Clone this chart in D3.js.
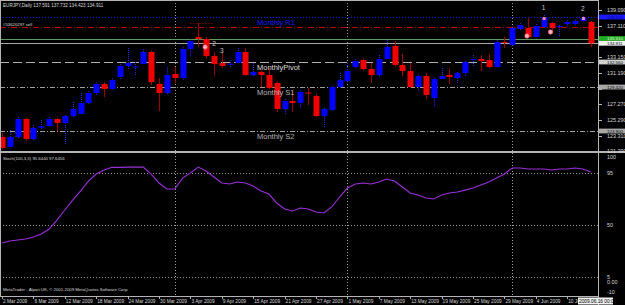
<!DOCTYPE html>
<meta charset="utf-8">
<script src="https://d3js.org/d3.v7.min.js"></script>
<style>
body { margin: 0; background: #000; }
svg { display: block; background: #000; }
text { font-family: "Liberation Sans", Arial, sans-serif; }
.small { font-size: 5.4px; fill: #d8d8d8; }
.tiny { font-size: 4.3px; fill: #d8d8d8; }
.tlab { font-size: 4.8px; fill: #d8d8d8; }
.boxt { font-size: 4.4px; }
.lvl { font-size: 7.5px; }
</style>
<body>
<script>

var titleText = "EURJPY,Daily 137.591 137.732 134.423 134.911";
var stochText = "Stoch(100,3,3) 95.6440 97.6456";
var footerText = "MetaTrader - Alpari UK, \u00a9 2001-2009 MetaQuotes Software Corp.";
var orderText = "#53620297 sell";
var cursorText = "2009.06.16 00:00";

// trading days, one per candle
var dates = [
  "2009-03-02","2009-03-03","2009-03-04","2009-03-05","2009-03-06",
  "2009-03-09","2009-03-10","2009-03-11","2009-03-12","2009-03-13",
  "2009-03-16","2009-03-17","2009-03-18","2009-03-19","2009-03-20",
  "2009-03-23","2009-03-24","2009-03-25","2009-03-26","2009-03-27",
  "2009-03-30","2009-03-31","2009-04-01","2009-04-02","2009-04-03",
  "2009-04-06","2009-04-07","2009-04-08","2009-04-09","2009-04-10",
  "2009-04-13","2009-04-14","2009-04-15","2009-04-16","2009-04-17",
  "2009-04-20","2009-04-21","2009-04-22","2009-04-23","2009-04-24",
  "2009-04-27","2009-04-28","2009-04-29","2009-04-30","2009-05-01",
  "2009-05-04","2009-05-05","2009-05-06","2009-05-07","2009-05-08",
  "2009-05-11","2009-05-12","2009-05-13","2009-05-14","2009-05-15",
  "2009-05-18","2009-05-19","2009-05-20","2009-05-21","2009-05-22",
  "2009-05-25","2009-05-26","2009-05-27","2009-05-28","2009-05-29",
  "2009-06-01","2009-06-02","2009-06-03","2009-06-04","2009-06-05",
  "2009-06-08","2009-06-09","2009-06-10","2009-06-11","2009-06-12",
  "2009-06-15"
];

var tickDates = ["2009-03-02","2009-03-06","2009-03-12","2009-03-18","2009-03-24","2009-03-30",
  "2009-04-03","2009-04-09","2009-04-15","2009-04-21","2009-04-27","2009-05-01","2009-05-07",
  "2009-05-13","2009-05-19","2009-05-25","2009-05-29","2009-06-04","2009-06-10"];

var open = [123.15,121.90,123.15,125.41,122.90,124.30,124.53,125.41,124.91,125.78,
  126.04,127.42,128.67,129.80,129.17,130.68,132.06,131.90,132.31,133.82,
  129.80,128.67,131.06,130.55,134.20,135.70,135.45,133.32,132.44,132.25,
  132.44,133.82,130.93,131.31,130.93,129.93,126.66,127.67,127.42,128.72,
  128.29,125.78,126.54,129.42,130.18,131.93,132.81,131.68,130.93,132.94,
  134.57,132.19,131.43,129.42,130.81,128.04,130.43,130.93,130.55,131.18,
  132.81,132.94,132.81,131.93,135.07,134.70,136.70,136.83,135.70,136.96,
  137.46,136.96,137.33,137.33,137.71,137.591];
var high = [123.65,124.03,125.66,125.60,124.66,125.28,125.60,125.60,125.90,127.54,
  128.67,128.90,130.00,130.00,130.50,132.30,134.30,132.56,134.20,134.00,
  130.55,131.90,131.93,134.40,135.40,137.46,135.70,133.82,133.69,132.81,
  134.32,134.32,132.44,131.50,131.81,130.10,127.90,128.92,129.00,129.30,
  128.50,126.80,129.60,131.18,132.44,132.90,133.00,132.44,133.44,135.32,
  135.20,133.57,132.44,131.00,131.18,130.60,131.81,131.68,131.30,132.70,
  133.44,133.44,133.57,135.30,135.70,137.00,137.46,138.09,137.33,138.46,
  137.60,137.20,137.80,137.90,138.30,137.732];
var low = [121.60,121.70,122.90,122.70,122.70,124.03,124.40,123.90,122.14,125.60,
  125.90,127.17,128.40,128.17,129.00,130.40,131.68,130.80,132.20,129.68,
  126.41,128.40,129.93,130.30,133.19,134.45,133.00,130.93,131.81,131.81,
  132.30,130.80,130.80,129.42,129.10,126.29,125.91,126.29,126.79,127.17,
  125.66,124.40,126.40,129.30,130.00,131.80,131.50,129.93,130.80,132.80,
  132.00,130.81,129.30,128.92,127.92,126.91,130.30,129.80,129.93,130.68,
  131.93,131.43,131.80,131.80,134.32,134.50,136.50,135.58,135.50,136.80,
  136.20,135.70,137.00,137.10,137.50,134.423];
var close = [121.77,123.15,125.41,122.90,124.28,124.50,125.41,124.91,125.78,126.66,
  127.42,128.67,129.80,129.17,130.30,132.06,132.44,132.00,133.82,130.05,
  128.67,130.93,130.55,134.20,135.20,135.45,133.32,132.31,132.06,132.35,
  133.82,130.93,131.31,130.93,129.30,126.66,127.67,127.42,128.80,128.62,
  125.78,126.66,129.42,130.30,131.43,132.69,131.68,130.93,132.94,134.45,
  132.19,131.43,129.42,130.81,128.42,130.43,130.81,130.68,131.18,132.56,
  132.94,132.69,131.93,135.07,134.95,136.83,137.21,135.70,137.08,138.09,
  136.83,137.08,137.58,137.71,138.09,134.911];

var stoch = [34.1,35.8,36.7,37.6,39.3,41.9,46.2,54.0,62.7,71.3,
  79.1,87.7,93.8,97.3,99.6,99.6,99.8,99.8,99.8,93.8,
  86.0,80.8,80.8,90.3,94.7,99.8,96.4,91.2,86.0,85.2,
  86.9,86.0,83.4,79.1,76.5,68.7,63.5,61.8,64.4,63.5,
  60.9,60.1,65.3,73.9,81.7,85.2,86.0,85.2,86.9,89.5,
  87.7,82.6,77.4,75.6,73.0,72.2,75.6,77.4,78.2,79.9,
  81.7,84.3,86.9,90.3,93.8,99.0,99.0,98.1,98.1,98.1,
  97.3,98.1,98.1,99.0,98.1,95.6];

var priceTicks = [139.09, 137.11, 135.15, 133.15, 131.19, 129.23, 127.27, 125.29, 123.31, 121.39];
var stochLevels = [95, 50, 5];
var stochTicks = [95, 50, 5, 0, -10];

var levelNames = ["Monthly R1", "sell", "tp", "bid", "MonthlyPivot", "Monthly S1", "Monthly S2"];
var levelPrices = [138.21, 136.96, 135.51, 134.911, 132.56, 129.42, 123.90];

var markBars = [27, 28, 69, 74];
var markPrices = [134.82, 133.94, 139.34, 139.22];
var markTexts = ["2", "3", "1", "2"];
var circleBars = [26, 67, 70];
var circlePrices = [134.45, 135.83, 136.33];
var arrowBars = [69, 74];
var arrowPrices = [137.96, 137.96];

var width = 625, height = 305;
var axisX = 598, timeY = 296;

var svg = d3.select("body").append("svg")
  .attr("width", width)
  .attr("height", height);

var xScale = d3.scaleLinear().domain([0, dates.length - 1]).range([2, 590.75]);
var yScale = d3.scaleLinear().domain([121.515, 140.345]).range([150, 0]);
var sScale = d3.scaleLinear().domain([-10, 112]).range([294, 153]);

var parseDate = d3.timeParse("%Y-%m-%d");
var fmtDate = d3.timeFormat("%-d %b %Y");

svg.append("clipPath").attr("id", "mainClip")
  .append("rect").attr("x", 0).attr("y", 0).attr("width", axisX).attr("height", 150);
svg.append("clipPath").attr("id", "timeClip")
  .append("rect").attr("x", 0).attr("y", 296).attr("width", 578).attr("height", 9);

// month separators
var sepIdx = [];
dates.forEach(function(d, i) {
  if (i > 0 && d.slice(5, 7) != dates[i - 1].slice(5, 7)) sepIdx.push(i);
});
svg.selectAll(".sep").data(sepIdx).enter().append("line")
  .attr("class", "sep")
  .attr("x1", function(d) { return Math.round(xScale(d)) + 0.5; })
  .attr("x2", function(d) { return Math.round(xScale(d)) + 0.5; })
  .attr("y1", 0).attr("y2", timeY)
  .attr("stroke", "#a0a0a0").attr("stroke-dasharray", "1,2");

// level lines
var levelStyle = {
  "Monthly R1": ["#1a1aff", "1,2"],
  "sell": ["#b00000", "6,2,1,2"],
  "tp": ["#5f9a5f", null],
  "bid": ["#a8a8a8", null],
  "MonthlyPivot": ["#b0b0b0", "9,4"],
  "Monthly S1": ["#a0a0a0", "5,2,1,2"],
  "Monthly S2": ["#a0a0a0", "5,2,1,2"]
};
svg.selectAll(".level").data(levelNames).enter().append("line")
  .attr("class", "level")
  .attr("x1", 0).attr("x2", axisX)
  .attr("y1", function(d, i) { return Math.round(yScale(levelPrices[i])) + 0.5; })
  .attr("y2", function(d, i) { return Math.round(yScale(levelPrices[i])) + 0.5; })
  .attr("stroke", function(d) { return levelStyle[d][0]; })
  .attr("stroke-dasharray", function(d) { return levelStyle[d][1]; });

// short dotted high marker
svg.append("line")
  .attr("x1", xScale(24)).attr("x2", xScale(26.8))
  .attr("y1", Math.round(yScale(high[25])) + 0.5).attr("y2", Math.round(yScale(high[25])) + 0.5)
  .attr("stroke", "#b00000").attr("stroke-dasharray", "1,2");

// candles
var candles = svg.append("g").attr("clip-path", "url(#mainClip)")
  .selectAll(".candle").data(dates).enter().append("g")
  .attr("class", "candle");

candles.append("line")
  .attr("x1", function(d, i) { return Math.round(xScale(i)) + 0.5; })
  .attr("x2", function(d, i) { return Math.round(xScale(i)) + 0.5; })
  .attr("y1", function(d, i) { return yScale(high[i]); })
  .attr("y2", function(d, i) { return yScale(low[i]); })
  .attr("stroke", function(d, i) { return close[i] >= open[i] ? "#2a2aff" : "#a00000"; })
  .attr("stroke-dasharray", function(d, i) { return close[i] >= open[i] ? "1,1" : null; });

candles.append("rect")
  .attr("x", function(d, i) { return Math.round(xScale(i)) - 2.5; })
  .attr("width", 6)
  .attr("y", function(d, i) { return yScale(Math.max(open[i], close[i])); })
  .attr("height", function(d, i) { return Math.max(1, Math.abs(yScale(open[i]) - yScale(close[i]))); })
  .attr("fill", function(d, i) { return close[i] >= open[i] ? "#0000ff" : "#f00000"; });

// wave markers
svg.selectAll(".mark").data(markTexts).enter().append("text")
  .attr("class", "mark")
  .attr("x", function(d, i) { return xScale(markBars[i]); })
  .attr("y", function(d, i) { return yScale(markPrices[i]); })
  .attr("dy", "0.35em")
  .attr("text-anchor", "middle")
  .style("font-size", "6.5px")
  .style("fill", "#c8c8c8")
  .text(function(d) { return d; });

svg.selectAll(".circ").data(circleBars).enter().append("circle")
  .attr("cx", function(d) { return xScale(d) - 1; })
  .attr("cy", function(d, i) { return yScale(circlePrices[i]); })
  .attr("r", 2.2)
  .attr("fill", "#f4b0c8").attr("stroke", "#ff6060").attr("stroke-width", 0.7);

svg.selectAll(".arrow").data(arrowBars).enter().append("rect")
  .attr("x", function(d) { return xScale(d) - 1; })
  .attr("y", function(d, i) { return yScale(arrowPrices[i]) - 2; })
  .attr("width", 3).attr("height", 3)
  .attr("fill", "#f080c0");

// level labels
var labelColor = { "Monthly R1": "#1a1aff", "MonthlyPivot": "#dcdcdc", "Monthly S1": "#b4b4b4", "Monthly S2": "#b4b4b4" };
svg.selectAll(".lvlText").data(levelNames.filter(function(d) { return labelColor[d]; }))
  .enter().append("text")
  .attr("class", "lvl")
  .attr("x", 257)
  .attr("y", function(d) { return yScale(levelPrices[levelNames.indexOf(d)]) + 8; })
  .style("fill", function(d) { return labelColor[d]; })
  .text(function(d) { return d; });

// stochastic panel
svg.selectAll(".slevel").data(stochLevels).enter().append("line")
  .attr("x1", 0).attr("x2", axisX)
  .attr("y1", function(d) { return Math.round(sScale(d)) + 0.5; })
  .attr("y2", function(d) { return Math.round(sScale(d)) + 0.5; })
  .attr("stroke", "#9a9a9a").attr("stroke-dasharray", "1,2");

var stochLine = d3.line()
  .x(function(d, i) { return xScale(i); })
  .y(function(d) { return sScale(d); });

svg.append("path")
  .attr("d", stochLine(stoch))
  .attr("fill", "none")
  .attr("stroke", "#9a30d8")
  .attr("stroke-width", 1.1);

// frame lines
svg.append("line").attr("x1", 0).attr("x2", width).attr("y1", 152).attr("y2", 152)
  .attr("stroke", "#b4b4b4").attr("stroke-width", 2);
svg.append("line").attr("x1", 0).attr("x2", axisX).attr("y1", 0.5).attr("y2", 0.5)
  .attr("stroke", "#b4b4b4");
svg.append("line").attr("x1", 0.5).attr("x2", 0.5).attr("y1", 0).attr("y2", timeY)
  .attr("stroke", "#b4b4b4");
svg.append("line").attr("x1", axisX + 0.5).attr("x2", axisX + 0.5).attr("y1", 0).attr("y2", height)
  .attr("stroke", "#b4b4b4");
svg.append("line").attr("x1", 0).attr("x2", axisX).attr("y1", timeY + 0.5).attr("y2", timeY + 0.5)
  .attr("stroke", "#b4b4b4");

// boxes for levels (drawn on the price axis)
var boxFill = { "Monthly R1": "#1a1aff", "tp": "#22aa22", "bid": "#f0f0f0",
  "MonthlyPivot": "#d0d0d0", "Monthly S1": "#a8a8a8", "Monthly S2": "#a8a8a8" };
var boxText = { "Monthly R1": "#000080", "tp": "#e0ffe0", "bid": "#000",
  "MonthlyPivot": "#000", "Monthly S1": "#000", "Monthly S2": "#000" };
var boxNames = levelNames.filter(function(d) { return boxFill[d]; });
var boxYs = boxNames.map(function(d) { return yScale(levelPrices[levelNames.indexOf(d)]); });

// price axis, labels hidden under a box are left out
var visibleTicks = priceTicks.filter(function(p) {
  return boxYs.every(function(by) { return Math.abs(yScale(p) - by) > 4.5; });
});
var priceAxis = svg.append("g");
priceAxis.selectAll("text").data(visibleTicks).enter().append("text")
  .attr("class", "small")
  .attr("x", 607)
  .attr("y", function(d) { return yScale(d); })
  .attr("dy", "0.35em")
  .text(function(d) { return d3.format(".3f")(d); });
priceAxis.selectAll("line").data(priceTicks).enter().append("line")
  .attr("x1", axisX).attr("x2", axisX + 4)
  .attr("y1", function(d) { return Math.round(yScale(d)) + 0.5; })
  .attr("y2", function(d) { return Math.round(yScale(d)) + 0.5; })
  .attr("stroke", "#b4b4b4");

var boxes = svg.selectAll(".box").data(boxNames).enter().append("g");
boxes.append("rect")
  .attr("x", axisX + 1).attr("width", width - axisX - 1)
  .attr("y", function(d, i) { return boxYs[i] - 2.4; })
  .attr("height", 4.8)
  .attr("fill", function(d) { return boxFill[d]; });
boxes.append("text")
  .attr("class", "boxt")
  .attr("x", 607)
  .attr("y", function(d, i) { return boxYs[i]; })
  .attr("dy", "0.35em")
  .style("fill", function(d) { return boxText[d]; })
  .text(function(d) { return d3.format(".3f")(levelPrices[levelNames.indexOf(d)]); });

// stochastic axis
svg.selectAll(".stick").data(stochTicks).enter().append("text")
  .attr("class", "small")
  .attr("x", 607)
  .attr("y", function(d) { return Math.min(sScale(d), 292); })
  .attr("dy", "0.35em")
  .text(function(d) { return d == 0 ? "0.00" : d; });
svg.append("text").attr("class", "small")
  .attr("x", 607).attr("y", 157).attr("dy", "0.35em").text("100");

// time axis
var tickIdx = tickDates.map(function(d) { return dates.indexOf(d); });
svg.selectAll(".ttick").data(tickIdx).enter().append("line")
  .attr("x1", function(d) { return Math.round(xScale(d)) + 0.5; })
  .attr("x2", function(d) { return Math.round(xScale(d)) + 0.5; })
  .attr("y1", timeY).attr("y2", timeY + 3)
  .attr("stroke", "#b4b4b4");
svg.append("g").attr("clip-path", "url(#timeClip)")
  .selectAll(".tlabel").data(tickIdx).enter().append("text")
  .attr("class", "tlab")
  .attr("x", function(d) { return xScale(d) + 1; })
  .attr("y", 302.5)
  .text(function(d) { return fmtDate(parseDate(dates[d])); });

var cur = svg.append("g");
cur.append("rect").attr("x", 578).attr("y", 297.5).attr("width", 35).attr("height", 7).attr("fill", "#f0f0f0");
cur.append("text").attr("class", "tlab").attr("x", 579).attr("y", 302.5)
  .style("fill", "#000").text(cursorText);

// titles
svg.append("text").attr("class", "tiny").style("font-size", "4.6px").attr("x", 3).attr("y", 6.5).text(titleText);
svg.append("text").attr("class", "tiny").attr("x", 3).attr("y", 26).text(orderText);
svg.append("text").attr("class", "tiny").attr("x", 3).attr("y", 159.5).text(stochText);
svg.append("text").attr("class", "tiny").attr("x", 3).attr("y", 290.5).text(footerText);

</script>
</body>
